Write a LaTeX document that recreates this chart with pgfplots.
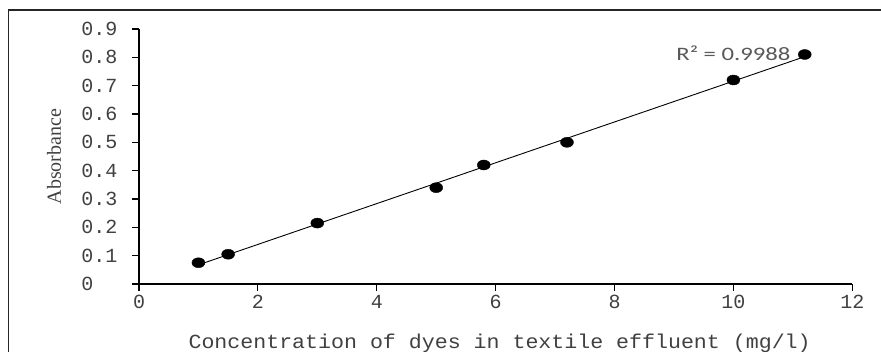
\documentclass[border=0pt]{standalone}
\usepackage{fontspec}
\usepackage{graphicx}
\usepackage{pgfplots}
\usepackage{pgfplotstable}
\pgfplotsset{compat=1.18}
\setmainfont{Liberation Serif}
\newfontfamily\monofont[FakeStretch=1.08]{Liberation Mono}
\newfontfamily\tickfont{Liberation Mono}
\newfontfamily\ylabfont{Liberation Serif}
\newfontfamily\rfont{Carlito}
\definecolor{txt}{HTML}{404040}
\definecolor{rtxt}{HTML}{595959}
\pgfplotstableread{
x y
1 0.075
1.5 0.105
3 0.215
5 0.34
5.8 0.42
7.2 0.50
10 0.72
11.2 0.81
}\datatab
\begin{document}
\begin{tikzpicture}
\useasboundingbox (0,0) rectangle (881bp,352bp);
\draw[line width=1.5bp, black!85] (8.5bp,-5bp) -- (8.5bp,342bp) -- (890bp,342bp);
\begin{axis}[
  at={(139bp,68bp)}, anchor=south west,
  scale only axis, width=713.3bp, height=255bp,
  xmin=0, xmax=12, ymin=0, ymax=0.9,
  axis x line=bottom, axis y line=left,
  axis line style={-, line width=1.3bp, black},
  xtick={0,2,...,12},
  ytick={0,0.1,...,0.9},
  tick style={line width=1.2bp, black},
  major tick length=7bp,
  tick align=outside,
  /pgf/number format/assume math mode=true,
  yticklabel={\makebox[36bp][l]{\fontsize{20bp}{22bp}\tickfont\pgfmathprintnumber[fixed,precision=1,assume math mode=true]{\tick}}},
  xticklabel={\fontsize{20bp}{22bp}\tickfont\pgfmathprintnumber[assume math mode=true]{\tick}},
  yticklabel style={color=txt, xshift=-11bp},
  xticklabel style={color=txt, yshift=-1bp},
  xlabel={Concentration of dyes in textile effluent (mg/l)},
  xlabel style={font=\fontsize{20bp}{24bp}\monofont, color=txt, at={(axis description cs:0.5,0)}, anchor=base, xshift=4bp, yshift=-64bp},
  ylabel={\fontsize{20bp}{24bp}\ylabfont Absorbance},
  ylabel style={color=txt, at={(axis description cs:0,0.5)}, anchor=center, yshift=85bp},
  clip=false,
]
\addplot[no marks, black, line width=0.9bp] table[x=x, y={create col/linear regression={y=y}}] {\datatab};
\addplot[only marks, mark=*, mark size=5bp, mark options={xscale=1.3, fill=black, draw=black}] table[x=x, y=y] {\datatab};
\node[color=rtxt, inner sep=0pt] at (axis cs:10,0.815) {\fontsize{19bp}{22bp}\rfont\scalebox{1.3}[1]{R² = 0.9988}};
\end{axis}
\end{tikzpicture}
\end{document}
